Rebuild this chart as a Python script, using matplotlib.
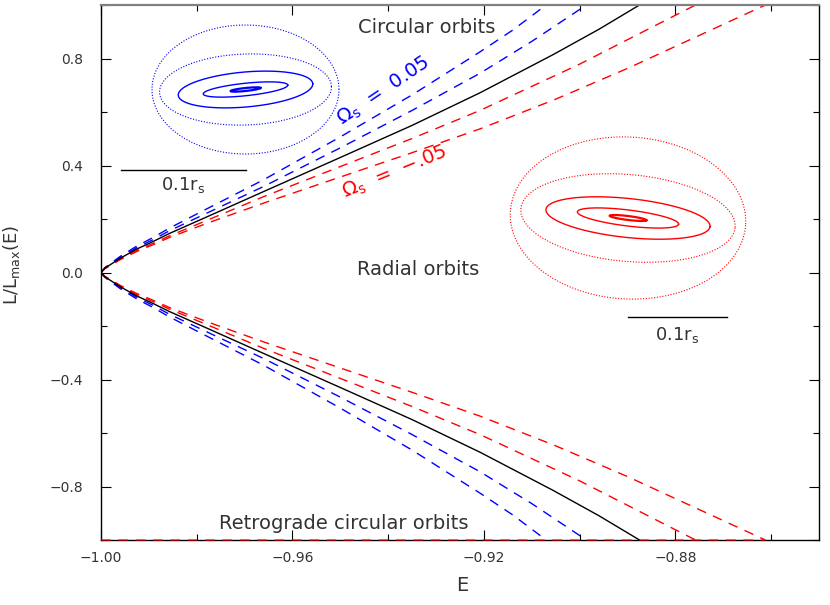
import numpy as np
import matplotlib
matplotlib.use('Agg')
import matplotlib.pyplot as plt
from matplotlib.ticker import MultipleLocator, FuncFormatter

# upper branch L/Lmax(E) of each curve
# (lower branch is the mirror image, L -> -L)
E_black = [-1.0, -0.9992, -0.9960, -0.9926, -0.9891, -0.9857, -0.9780, -0.9661, -0.9500, -0.9350, -0.9208, -0.9055, -0.8960, -0.8875]
L_black = [0.0, 0.016, 0.053, 0.087, 0.116, 0.146, 0.207, 0.302, 0.430, 0.550, 0.672, 0.815, 0.909, 1.0]

# Omega_s = 0.05
E_blue1 = [-1.0, -0.9992, -0.9960, -0.9926, -0.9891, -0.9857, -0.9780, -0.9661, -0.9500, -0.9350, -0.9208, -0.9140, -0.9070]
L_blue1 = [0.0, 0.018, 0.060, 0.098, 0.131, 0.166, 0.237, 0.346, 0.507, 0.664, 0.825, 0.906, 1.0]
E_blue2 = [-1.0, -0.9992, -0.9960, -0.9926, -0.9891, -0.9857, -0.9780, -0.9661, -0.9500, -0.9350, -0.9208, -0.9100, -0.8986]
L_blue2 = [0.0, 0.017, 0.056, 0.092, 0.123, 0.156, 0.221, 0.321, 0.466, 0.606, 0.745, 0.864, 1.0]

# Omega_s = -.05
E_red1 = [-1.0, -0.9992, -0.9960, -0.9926, -0.9891, -0.9857, -0.9780, -0.9661, -0.9500, -0.9350, -0.9208, -0.9000, -0.8758]
L_red1 = [0.0, 0.015, 0.050, 0.082, 0.109, 0.137, 0.194, 0.283, 0.396, 0.501, 0.606, 0.779, 1.0]
E_red2 = [-1.0, -0.9992, -0.9960, -0.9926, -0.9891, -0.9857, -0.9780, -0.9661, -0.9500, -0.9350, -0.9208, -0.9050, -0.8900, -0.8612]
L_red2 = [0.0, 0.014, 0.048, 0.078, 0.104, 0.131, 0.183, 0.259, 0.357, 0.448, 0.537, 0.648, 0.763, 1.0]

x_ticks = [-1.00, -0.96, -0.92, -0.88]
y_ticks = [-0.8, -0.4, 0.0, 0.4, 0.8]

# orbit loops in the two insets (units of r_s), outer -> inner
blue_a = [0.0748, 0.0688, 0.0540, 0.0340, 0.0120]
blue_b = [0.0516, 0.0284, 0.0140, 0.0050, 0.0012]
blue_tilt = [0, 2, 5, 6, 6]
red_a = [0.1190, 0.1086, 0.0833, 0.0515, 0.0187]
red_b = [0.0818, 0.0439, 0.0197, 0.0081, 0.0020]
red_tilt = [-3, -5, -6, -7, -7]
bar_len = 0.1

TXT = '#333333'
W, H = 830, 605

plt.rcParams['font.family'] = ['DejaVu Sans']
plt.rcParams['lines.scale_dashes'] = False

fig = plt.figure(figsize=(W / 100.0, H / 100.0), dpi=100)
ax = fig.add_axes([101.0 / W, 1 - 540.0 / H, 718.0 / W, 535.0 / H])

dash = (0, (7, 5.5))
curves = [(E_blue1, L_blue1, 'blue', dash), (E_blue2, L_blue2, 'blue', dash),
          (E_red1, L_red1, 'red', dash), (E_red2, L_red2, 'red', dash),
          (E_black, L_black, 'black', '-')]
for e, l, c, ls in curves:
    l = np.array(l)
    ax.plot(e, l, color=c, ls=ls, lw=1.0)
    ax.plot(e, -l, color=c, ls=ls, lw=1.0)

# retrograde circular orbits along the bottom edge
ax.plot([E_red2[0], E_red2[-1]], [-L_red2[-1], -L_red2[-1]], color='red', ls=dash,
        lw=1.5, alpha=0.55, clip_on=False, zorder=3)


def fmt(v, nd):
    s = '%.*f' % (nd, v)
    if s.startswith('-'):
        s = '\u2212' + s[1:]
    if s == '\u22120.0':
        s = '0.0'
    return s


ax.set_xlim(-1.0, -0.85)
ax.set_ylim(-1.0, 1.0)
ax.set_xticks(x_ticks)
ax.set_yticks(y_ticks)
ax.xaxis.set_minor_locator(MultipleLocator(0.02))
ax.yaxis.set_minor_locator(MultipleLocator(0.2))
ax.xaxis.set_major_formatter(FuncFormatter(lambda v, p: fmt(v, 2)))
ax.yaxis.set_major_formatter(FuncFormatter(lambda v, p: fmt(v, 1)))
ax.tick_params(which='both', direction='in', top=True, right=True, width=0.8,
               labelsize=10, labelcolor=TXT)
ax.tick_params(which='major', length=7)
ax.tick_params(which='minor', length=4)
ax.tick_params(axis='y', pad=13)
ax.tick_params(axis='x', pad=8)
for s in ['left', 'right', 'bottom']:
    ax.spines[s].set_linewidth(1.0)
ax.spines['top'].set_color('#808080')
ax.spines['top'].set_linewidth(1.6)

ax.set_xlabel('E', fontsize=14, color=TXT)
ax.set_ylabel(r'L/L$_{\mathrm{max}}$(E)', fontsize=13, color=TXT)
ax.xaxis.set_label_coords(0.503, -0.068)
ax.yaxis.set_label_coords(-0.110, 0.514)

ax.text(-0.9320, 0.895, 'Circular orbits', fontsize=14, color=TXT, ha='center', va='baseline')
ax.text(-0.9338, -0.009, 'Radial orbits', fontsize=14, color=TXT, ha='center', va='baseline')
ax.text(-0.9492, -0.960, 'Retrograde circular orbits', fontsize=14, color=TXT,
        ha='center', va='baseline')
ax.text(-0.9409, 0.6785, r'$\Omega_{\mathrm{s}}$  =  0.05', fontsize=14, color='blue',
        ha='center', va='center', rotation=34, rotation_mode='anchor')
ax.text(-0.9386, 0.3757, r'$\Omega_{\mathrm{s}}$  =  $-$.05', fontsize=14, color='red',
        ha='center', va='center', rotation=22, rotation_mode='anchor')


def orbit_inset(cx, cy, px_per_rs, half_w, half_h):
    iax = fig.add_axes([(cx - half_w) / W, 1 - (cy + half_h) / H, 2.0 * half_w / W, 2.0 * half_h / H])
    iax.set_xlim(-half_w / px_per_rs, half_w / px_per_rs)
    iax.set_ylim(-half_h / px_per_rs, half_h / px_per_rs)
    iax.axis('off')
    return iax


def draw_loops(iax, a_list, b_list, tilt_list, color):
    t = np.linspace(0, 2 * np.pi, 400)
    for i in range(len(a_list)):
        th = np.radians(tilt_list[i])
        x0 = a_list[i] * np.cos(t)
        y0 = b_list[i] * np.sin(t)
        x = x0 * np.cos(th) - y0 * np.sin(th)
        y = x0 * np.sin(th) + y0 * np.cos(th)
        if i < 2:
            iax.plot(x, y, color=color, lw=0.8, ls=(0, (0.8, 1.2)))
        elif i == len(a_list) - 1:
            iax.plot(x, y, color=color, lw=1.6)
        else:
            iax.plot(x, y, color=color, lw=1.0)


# blue inset, scale bar to the left of the centre
bax = orbit_inset(245.5, 89.5, 1250.0, 150, 110)
draw_loops(bax, blue_a, blue_b, blue_tilt, 'blue')
bar_y = -0.0644
bax.plot([-bar_len, 0.0], [bar_y, bar_y], color='black', lw=1.0)
bax.text(-bar_len / 2, bar_y - 0.004, r'0.1r$_{\mathrm{s}}$', fontsize=13, color=TXT,
         ha='center', va='top')

# red inset, scale bar to the right of the centre
rax = orbit_inset(628.0, 218.0, 990.0, 140, 150)
draw_loops(rax, red_a, red_b, red_tilt, 'red')
bar_y = -0.100
rax.plot([0.0, bar_len], [bar_y, bar_y], color='black', lw=1.0)
rax.text(bar_len / 2, bar_y - 0.008, r'0.1r$_{\mathrm{s}}$', fontsize=13, color=TXT,
         ha='center', va='top')

fig.savefig('out.png', dpi=100)
